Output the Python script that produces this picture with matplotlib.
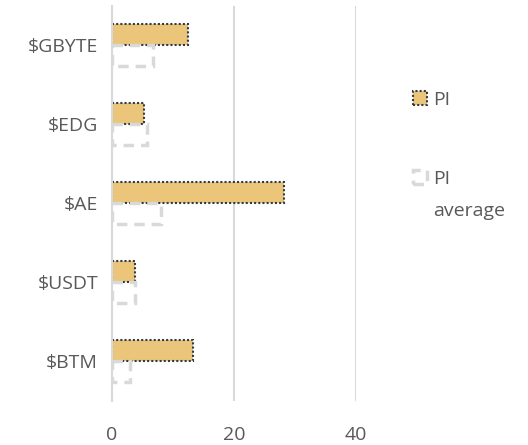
import numpy as np
import matplotlib.pyplot as plt
from matplotlib.patches import Patch

categories = ["$GBYTE", "$EDG", "$AE", "$USDT", "$BTM"]
pi_values = [12.5, 5.2, 28.2, 3.8, 13.3]
pi_average = [6.7, 5.7, 8.0, 3.8, 3.0]

plt.rcParams["font.family"] = ["Open Sans", "DejaVu Sans"]
text_color = "#595959"
grid_color = "#d9d9d9"
pi_color = "#ebc67a"
edge_color = "#2f3a4a"

W, H = 528, 445
fig = plt.figure(figsize=(W / 100, H / 100), dpi=100)
ax = fig.add_axes([112 / W, 1 - 400.5 / H, (356 - 112) / W, 395 / H])

y = np.arange(len(categories))
h = 0.27
ax.barh(y - h / 2, pi_values, height=h, color=pi_color, edgecolor=edge_color,
        linestyle=(0, (1, 1)), linewidth=1.5, zorder=3)
ax.barh(y + h / 2, pi_average, height=h, color="none", edgecolor=grid_color,
        linestyle=(0, (3, 2)), linewidth=2.5, zorder=3)

ax.set_ylim(len(categories) - 0.5, -0.5)
ax.set_xlim(0, 40)
ax.set_xticks([0, 20, 40])
ax.set_yticks(y)
ax.set_yticklabels(categories)
ax.grid(axis="x", color=grid_color, linewidth=1.5, zorder=0)
for s in ["top", "right", "bottom"]:
    ax.spines[s].set_visible(False)
ax.spines["left"].set_color(grid_color)
ax.spines["left"].set_linewidth(1.5)
ax.spines["left"].set_zorder(4)
ax.tick_params(axis="both", length=0, labelsize=14, colors=text_color)
ax.tick_params(axis="x", pad=18)
ax.tick_params(axis="y", pad=10)

# legend, one entry at a time so the spacing matches
entries = [
    (Patch(facecolor=pi_color, edgecolor=edge_color, linestyle=(0, (1, 1)), linewidth=1.5), "PI", 100),
    (Patch(facecolor="none", edgecolor=grid_color, linestyle=(0, (3, 2)), linewidth=2.5), "PI", 179),
]
for handle, label, ypix in entries:
    fig.legend([handle], [label], loc="center left",
               bbox_to_anchor=(395 / W, 1 - ypix / H), frameon=False,
               fontsize=14, labelcolor=text_color, handlelength=0.77,
               handleheight=0.72, handletextpad=0.3)
fig.text(433 / W, 1 - 211 / H, "average", fontsize=14, color=text_color,
         ha="left", va="center")

fig.savefig("out.png", dpi=100)
